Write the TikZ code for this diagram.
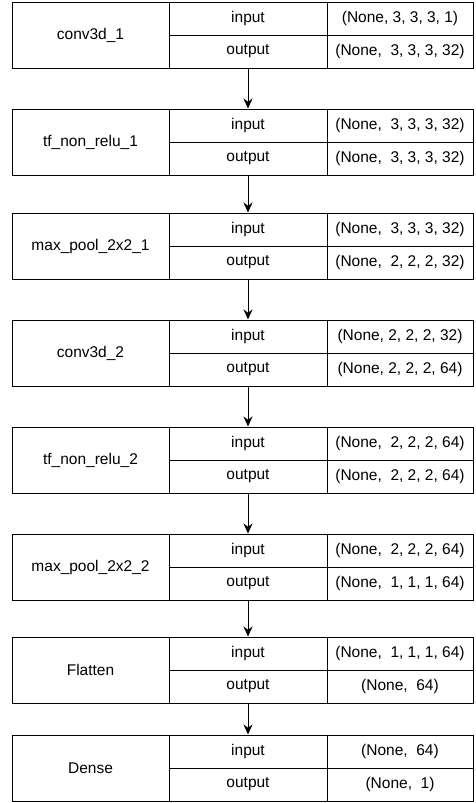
\documentclass[tikz,border=0pt]{standalone}
\usepackage{fontspec}
\setmainfont{Liberation Sans}
\usetikzlibrary{arrows.meta,positioning}

\begin{document}
\begin{tikzpicture}[x=1pt,y=-1pt,>={Stealth[length=10pt,width=9pt]},
  cell/.style={draw,line width=1pt,inner sep=0pt,minimum height=33pt,
    font=\fontsize{15.5}{18}\selectfont},
  namebox/.style={cell,minimum width=157pt,minimum height=66pt},
  iobox/.style={cell,minimum width=158pt},
  shapebox/.style={cell,minimum width=146pt}]
\useasboundingbox (0,0) rectangle (475,803);
% one layer: name | input/output | shapes
\foreach \t/\nm/\is/\os [count=\i] in {
  2/conv3d\_1/{(None, 3, 3, 3, 1)}/{(None,~ 3, 3, 3, 32)},
  109/tf\_non\_relu\_1/{(None,~ 3, 3, 3, 32)}/{(None,~ 3, 3, 3, 32)},
  213/max\_pool\_2x2\_1/{(None,~ 3, 3, 3, 32)}/{(None,~ 2, 2, 2, 32)},
  320/conv3d\_2/{(None, 2, 2, 2, 32)}/{(None, 2, 2, 2, 64)},
  427/tf\_non\_relu\_2/{(None,~ 2, 2, 2, 64)}/{(None,~ 2, 2, 2, 64)},
  534/max\_pool\_2x2\_2/{(None,~ 2, 2, 2, 64)}/{(None,~ 1, 1, 1, 64)},
  637/Flatten/{(None,~ 1, 1, 1, 64)}/{(None,~ 64)},
  735/Dense/{(None,~ 64)}/{(None,~ 1)}}{
  \node[namebox] (n\i) at (90.5,\t+33) {\nm};
  \node[iobox] (in\i) at (248,\t+16.5) {input};
  \node[iobox] (out\i) at (248,\t+49.5) {output};
  \node[shapebox] (is\i) at (400,\t+16.5) {\is};
  \node[shapebox] (os\i) at (400,\t+49.5) {\os};
}
\foreach \a/\b in {1/2,2/3,3/4,4/5,5/6,6/7,7/8}
  \draw[->,line width=1pt] (out\a.south) -- (in\b.north);
\end{tikzpicture}
\end{document}
